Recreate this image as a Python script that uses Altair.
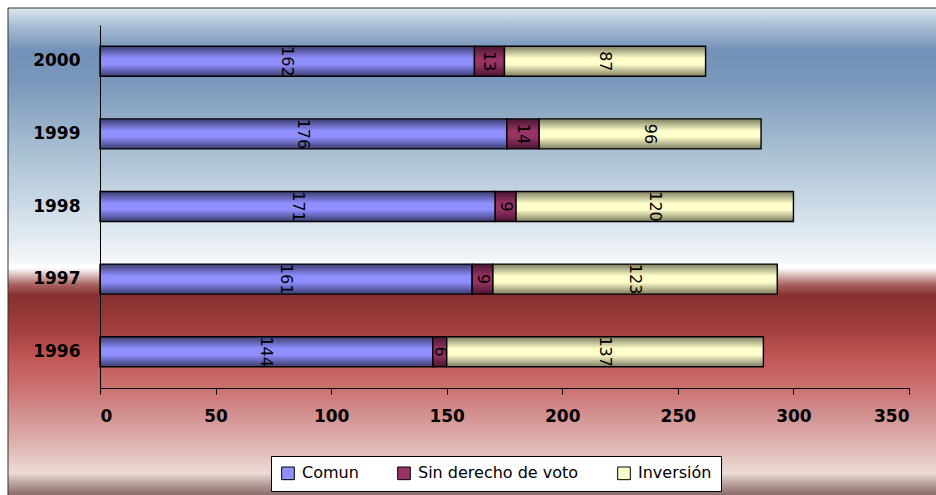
import altair as alt
import pandas as pd

years = ["2000", "1999", "1998", "1997", "1996"]
comun = [162, 176, 171, 161, 144]
sin_voto = [13, 14, 9, 9, 6]
inversion = [87, 96, 120, 123, 137]
series = ["Comun", "Sin derecho de voto", "Inversión"]
flat_colors = ["#8f8fff", "#993366", "#ffffcc"]
edge_colors = ["#3c3c70", "#4a1530", "#7e7e62"]

rows = []
for i, y in enumerate(years):
    for k, (s, vals) in enumerate(zip(series, [comun, sin_voto, inversion])):
        rows.append({"year": y, "series": s, "value": vals[i], "order": k})
df = pd.DataFrame(rows)

FONT = "DejaVu Sans"

def grad(mid, edge):
    return alt.LinearGradient(
        gradient="linear", x1=0, x2=0, y1=0, y2=1,
        stops=[
            alt.GradientStop(offset=0.0, color=edge),
            alt.GradientStop(offset=0.4, color=mid),
            alt.GradientStop(offset=0.6, color=mid),
            alt.GradientStop(offset=1.0, color=edge),
        ],
    )

bg_grad = {
    "gradient": "linear", "x1": 0, "x2": 0, "y1": 0, "y2": 1,
    "stops": [
        {"offset": 0.0, "color": "#dde7f0"},
        {"offset": 0.029, "color": "#b0c5d8"},
        {"offset": 0.086, "color": "#7390b8"},
        {"offset": 0.148, "color": "#7a97bb"},
        {"offset": 0.27, "color": "#a3bbd0"},
        {"offset": 0.393, "color": "#cad9e6"},
        {"offset": 0.506, "color": "#f3f6f9"},
        {"offset": 0.523, "color": "#ffffff"},
        {"offset": 0.529, "color": "#f0e4e4"},
        {"offset": 0.557, "color": "#a86060"},
        {"offset": 0.578, "color": "#883030"},
        {"offset": 0.639, "color": "#a03c3c"},
        {"offset": 0.70, "color": "#c05555"},
        {"offset": 0.762, "color": "#cc7070"},
        {"offset": 0.824, "color": "#d49494"},
        {"offset": 0.885, "color": "#e0b8b4"},
        {"offset": 0.936, "color": "#ecdcd6"},
        {"offset": 0.957, "color": "#b8a09c"},
        {"offset": 0.988, "color": "#7a5a58"},
        {"offset": 1.0, "color": "#6a4848"},
    ],
}

background = alt.Chart(pd.DataFrame({"a": [0]})).mark_rect(
    fill=bg_grad, stroke="#333333", strokeWidth=1, clip=False
).encode(
    x=alt.value(-92), x2=alt.value(846),
    y=alt.value(-17), y2=alt.value(480),
)

base = alt.Chart(df).transform_stack(
    stack="value", groupby=["year"], as_=["v0", "v1"],
    sort=[alt.SortField("order", order="ascending")],
).transform_calculate(mid="(datum.v0 + datum.v1) / 2")

yenc = alt.Y("year:N", sort=years,
             scale=alt.Scale(paddingInner=0, paddingOuter=0),
             axis=alt.Axis(title=None, ticks=False, labelPadding=20, zindex=1,
                           labelFont=FONT, labelFontSize=17, labelFontWeight="bold",
                           labelColor="black", domainColor="black"))
xenc = alt.X("v0:Q", scale=alt.Scale(domain=[0, 350]),
             axis=alt.Axis(title=None, values=[0, 50, 100, 150, 200, 250, 300, 350],
                           grid=False, tickSize=6, tickColor="black", domainColor="black",
                           zindex=1, labelPadding=14, labelFont=FONT, labelFontSize=17,
                           labelFontWeight="bold", labelColor="black"))

legend_bars = base.mark_bar(size=30, opacity=0).encode(
    y=yenc, x=xenc, x2="v1:Q",
    color=alt.Color("series:N",
                    scale=alt.Scale(domain=series, range=flat_colors),
                    legend=alt.Legend(
                        title=None, orient="none", legendX=171, legendY=431,
                        direction="horizontal", columns=3, labelLimit=400,
                        fillColor="white", strokeColor="black", padding=9,
                        labelFont=FONT, labelFontSize=16, labelColor="black",
                        symbolType="square", symbolSize=160,
                        symbolStrokeColor="black", symbolStrokeWidth=1,
                        symbolOpacity=1,
                        columnPadding=36, labelOffset=6)),
)

layers = [background, legend_bars]
for s, mid, edge in zip(series, flat_colors, edge_colors):
    layers.append(
        base.transform_filter(alt.datum.series == s).mark_bar(
            size=30, fill=grad(mid, edge), stroke="black", strokeWidth=1.4
        ).encode(y=alt.Y("year:N", sort=years), x="v0:Q", x2="v1:Q")
    )

labels = base.mark_text(angle=90, font=FONT, fontSize=16, color="black").encode(
    y=alt.Y("year:N", sort=years), x="mid:Q", text="value:Q"
)
layers.append(labels)

chart = alt.layer(*layers).properties(
    width=809, height=363,
    autosize=alt.AutoSizeParams(type="none"),
    padding={"left": 100, "top": 25, "right": 27, "bottom": 107},
).configure_view(stroke=None).configure(background="white")

chart.save("out.html", embed_options={"renderer": "svg", "actions": False})
